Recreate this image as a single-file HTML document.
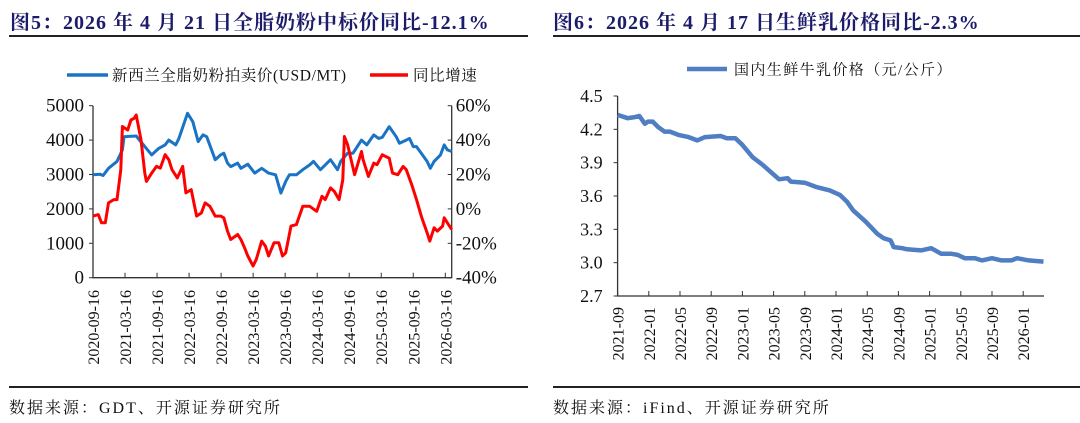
<!DOCTYPE html>
<html><head><meta charset="utf-8">
<style>
html,body{margin:0;padding:0;background:#fff;}
body{width:1080px;height:423px;overflow:hidden;position:relative;font-family:"Liberation Serif","Noto Serif CJK SC",serif;}
.title{position:absolute;top:6px;font-weight:bold;font-size:20px;color:#1c1c6b;letter-spacing:1px;white-space:nowrap;}
.hr{position:absolute;height:2px;background:#222;}
.src{position:absolute;top:395px;font-size:16px;color:#111;white-space:nowrap;letter-spacing:2px;}
svg{position:absolute;left:0;top:0;}
svg text{font-family:"Liberation Serif","Noto Serif CJK SC",serif;fill:#111;}
</style></head>
<body>
<div class="title" style="left:10px">图5：2026 年 4 月 21 日全脂奶粉中标价同比-12.1%</div>
<div class="hr" style="left:9px;width:519px;top:35px"></div>
<div class="title" style="left:553px">图6：2026 年 4 月 17 日生鲜乳价格同比-2.3%</div>
<div class="hr" style="left:553px;width:527px;top:35px"></div>
<div class="hr" style="left:9px;width:519px;top:386px"></div>
<div class="hr" style="left:553px;width:527px;top:386px"></div>
<div class="src" style="left:9px">数据来源：GDT、开源证券研究所</div>
<div class="src" style="left:553px">数据来源：iFind、开源证券研究所</div>
<svg id="svg" width="1080" height="423"></svg>
<script>
// ---- Chart 5 data (months since 2020-09-16) ----
const gdtMonths=[0,1.3,1.9,2.9,4.5,5.5,5.8,8.1,9.7,11.0,12.3,13.5,14.2,15.5,16.1,17.7,18.7,19.7,20.6,21.3,22.9,23.9,24.5,25.2,25.8,27.1,27.7,29.0,30.3,31.6,32.9,34.2,35.2,36.1,36.8,38.1,39.3,40.6,41.3,42.6,43.2,44.5,45.8,46.4,47.7,48.7,50.3,51.3,52.6,53.5,54.2,55.5,56.8,57.4,58.7,59.3,60.0,60.6,62.6,63.2,63.9,65.1,65.8,66.4,67.2];
const gdtPrice=[2990,3010,2970,3180,3380,3715,4100,4120,3810,3570,3760,3860,4000,3860,4050,4780,4535,3955,4150,4100,3430,3570,3620,3330,3230,3330,3180,3300,3040,3180,3040,2990,2460,2800,2990,2990,3140,3280,3380,3140,3230,3430,3140,3380,3620,3620,4000,3860,4150,4050,4080,4390,4100,3910,4000,4050,3810,3810,3380,3180,3380,3570,3860,3715,3670];
const yoyMonths=[0,1.0,1.6,2.3,2.9,3.9,4.5,5.2,5.5,6.5,7.1,7.7,8.1,8.4,9.0,9.7,10.0,11.0,11.9,12.6,13.5,14.2,14.8,15.8,16.8,17.4,18.4,19.4,20.3,21.0,21.9,22.9,23.9,24.5,25.2,25.8,27.1,27.7,28.4,29.0,30.0,30.6,31.6,32.3,32.9,33.9,34.8,35.5,36.1,37.1,38.1,39.3,40.6,41.9,42.9,43.5,44.5,45.2,46.1,46.8,47.1,47.7,49.0,50.3,50.6,51.6,52.6,53.2,54.2,54.8,55.5,56.1,57.1,58.1,58.7,59.7,60.6,61.6,62.6,63.1,63.9,64.5,65.5,65.8,66.4,67.2];
const yoyPct=[-4.2,-3.3,-8.1,-8.1,3.5,5.4,5.4,22.8,47.9,45.9,51.7,52.7,54.6,49.8,40.2,20.8,16.0,20.8,24.7,23.7,31.5,28.6,22.8,18.0,24.7,9.3,11.2,-4.2,-2.3,3.5,1.5,-4.2,-4.2,-5.2,-12.9,-17.8,-14.9,-17.8,-22.6,-27.4,-33.2,-29.3,-18.7,-21.6,-27.4,-19.7,-19.7,-27.4,-25.5,-10.0,-9.1,1.5,1.5,-1.4,7.3,5.4,12.2,10.2,5.4,17.0,42.1,37.3,19.9,33.4,28.6,18.9,26.6,25.7,31.5,30.5,29.5,20.8,19.9,24.7,22.8,14.1,5.4,-5.2,-13.9,-18.7,-11.0,-12.9,-10.0,-5.2,-8.1,-12.0];
const gdtDateLabels=["2020-09-16","2021-03-16","2021-09-16","2022-03-16","2022-09-16","2023-03-16","2023-09-16","2024-03-16","2024-09-16","2025-03-16","2025-09-16","2026-03-16"];
const leftTicks=[0,1000,2000,3000,4000,5000];
const rightTicks=[-40,-20,0,20,40,60];
// ---- Chart 6 data (months since 2021-09) ----
const milkMonths=[0,1.3,2.2,2.8,3.5,3.9,4.5,5.2,6.0,6.7,7.8,9.1,10.2,11.2,13.2,14.0,15.1,16.0,17.3,18.6,19.9,20.7,21.8,22.2,24.0,25.5,27.2,28.5,29.4,30.2,31.8,33.3,34.1,35.0,35.4,36.5,37.1,38.9,40.2,41.5,42.8,43.6,44.5,45.8,46.7,48.0,49.2,50.5,51.2,52.7,54.6];
const milkPrice=[4.33,4.30,4.31,4.32,4.25,4.27,4.27,4.22,4.18,4.18,4.15,4.13,4.10,4.13,4.14,4.12,4.12,4.06,3.95,3.88,3.80,3.75,3.76,3.73,3.72,3.68,3.65,3.61,3.55,3.47,3.37,3.26,3.22,3.20,3.14,3.13,3.12,3.11,3.13,3.08,3.08,3.07,3.04,3.04,3.02,3.04,3.02,3.02,3.04,3.02,3.01];
const milkDateLabels=["2021-09","2022-01","2022-05","2022-09","2023-01","2023-05","2023-09","2024-01","2024-05","2024-09","2025-01","2025-05","2025-09","2026-01"];
const milkTicks=[2.7,3.0,3.3,3.6,3.9,4.2,4.5];

const NS="http://www.w3.org/2000/svg";
const svg=document.getElementById('svg');
function mk(tag,attrs,parent){const e=document.createElementNS(NS,tag);for(const k in attrs)e.setAttribute(k,attrs[k]);(parent||svg).appendChild(e);return e;}

// ===== Chart 5 =====
const L={x0:93,x1:451.7,y0:277.7,y1:105.7};
const gx=t=>L.x0+t*(L.x1-L.x0)/67.2;
const gyL=v=>L.y0-(v/5000)*(L.y0-L.y1);
const gyR=p=>L.y0-((p+40)/100)*(L.y0-L.y1);
const g5=mk('g',{});


let ax=mk('path',{d:`M${L.x0} ${L.y1}V${L.y0}H${L.x1}V${L.y1}`,fill:'none',stroke:'#333','stroke-width':1.3},g5);


leftTicks.forEach(v=>{
  const t=mk('text',{x:L.x0-9,y:gyL(v)+6,'text-anchor':'end','font-size':19},g5);t.textContent=v;
  
  
  mk('line',{x1:L.x0-4,x2:L.x0,y1:gyL(v),y2:gyL(v),stroke:'#333'},g5);
});
rightTicks.forEach(p=>{
  const t=mk('text',{x:L.x1+4,y:gyR(p)+6,'font-size':19},g5);t.textContent=p+'%';
  
  
  mk('line',{x1:L.x1-4,x2:L.x1,y1:gyR(p),y2:gyR(p),stroke:'#333'},g5);
});
gdtDateLabels.forEach((s,i)=>{
  const x=gx(i*6);
  mk('line',{x1:x,x2:x,y1:L.y0,y2:L.y0-5,stroke:'#333'},g5);
  const t=mk('text',{transform:`translate(${x+6},290) rotate(-90)`,'text-anchor':'end','font-size':16},g5);t.textContent=s;
  
  
});
function line(xs,ys,fx,fy,color,w,parent){return mk('polyline',{points:xs.map((x,i)=>fx(x).toFixed(1)+','+fy(ys[i]).toFixed(1)).join(' '),fill:'none',stroke:color,'stroke-width':w,'stroke-linejoin':'round'},parent);}
const bl=line(gdtMonths,gdtPrice,gx,gyL,'#1a73c4',3,g5);


const rl=line(yoyMonths,yoyPct,gx,gyR,'#ff0000',3,g5);


// legend
mk('line',{x1:67,x2:108,y1:75,y2:75,stroke:'#1a73c4','stroke-width':3.5},g5);
let lt=mk('text',{x:112,y:80.5,'font-size':15.5,'letter-spacing':'0.6'},g5);lt.textContent='新西兰全脂奶粉拍卖价(USD/MT)';


mk('line',{x1:370,x2:408,y1:75,y2:75,stroke:'#ff0000','stroke-width':3.5},g5);
lt=mk('text',{x:413,y:80.5,'font-size':15.5,'letter-spacing':'0.6'},g5);lt.textContent='同比增速';



// ===== Chart 6 =====
const R={x0:617.6,x1:1044,y0:296,y1:96};
const mx=m=>R.x0+m*7.8;
const my=v=>R.y0-(v-2.7)/1.8*(R.y0-R.y1);
const g6=mk('g',{});


ax=mk('path',{d:`M${R.x0} ${R.y1}V${R.y0}H${R.x1}`,fill:'none',stroke:'#333','stroke-width':1.3},g6);


milkTicks.forEach(v=>{
  const t=mk('text',{x:R.x0-15,y:my(v)+6,'text-anchor':'end','font-size':18},g6);t.textContent=v.toFixed(1);
  
  
  mk('line',{x1:R.x0-4,x2:R.x0,y1:my(v),y2:my(v),stroke:'#333'},g6);
});
milkDateLabels.forEach((s,i)=>{
  const x=mx(i*4);
  mk('line',{x1:x,x2:x,y1:R.y0,y2:R.y0-5,stroke:'#333'},g6);
  const t=mk('text',{transform:`translate(${x+6},307) rotate(-90)`,'text-anchor':'end','font-size':16},g6);t.textContent=s;
  
  
});
const ml=line(milkMonths,milkPrice,mx,my,'#4f7fc2',4.5,g6);


mk('line',{x1:687,x2:727,y1:69,y2:69,stroke:'#4f7fc2','stroke-width':4.5},g6);
lt=mk('text',{x:734,y:74.5,'font-size':15,'letter-spacing':'1.4'},g6);lt.textContent='国内生鲜牛乳价格（元/公斤）';


</script>
</body></html>
